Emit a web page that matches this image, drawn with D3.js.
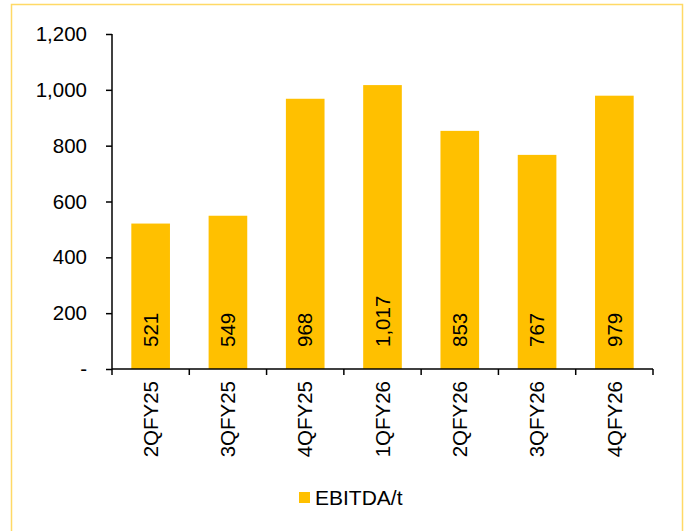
<!DOCTYPE html>
<html>
<head>
<script src="https://cdn.jsdelivr.net/npm/d3@7"></script>
<style>
  body { margin: 0; background: #fff; }
  text { font-family: "Liberation Sans", Arial, sans-serif; fill: #000; }
</style>
</head>
<body>
<svg width="694" height="531"></svg>
<script>
  // chart data
  var quarters = ["2QFY25", "3QFY25", "4QFY25", "1QFY26", "2QFY26", "3QFY26", "4QFY26"];
  var ebitda = [521, 549, 968, 1017, 853, 767, 979];
  var yTicks = [0, 200, 400, 600, 800, 1000, 1200];
  var seriesName = "EBITDA/t";

  var svg = d3.select("svg");
  var barColor = "#FFC000";
  var fontSize = "20.5px";

  // outer frame (no bottom edge visible in the original)
  svg.append("rect")
    .attr("x", 11.5).attr("y", 4.5)
    .attr("width", 671).attr("height", 540)
    .attr("fill", "none")
    .attr("stroke", "#FFD966")
    .attr("stroke-width", 1.5);

  var mLeft = 112, mRight = 653, mTop = 34, mBottom = 369;

  var x = d3.scaleBand().domain(quarters).range([mLeft, mRight]).paddingInner(0.5).paddingOuter(0.25);
  var y = d3.scaleLinear().domain([0, 1200]).range([mBottom, mTop]);
  var fmt = d3.format(",");

  // bars
  svg.append("g").selectAll("rect")
    .data(quarters)
    .enter().append("rect")
    .attr("x", function(d) { return x(d); })
    .attr("y", function(d, i) { return y(ebitda[i]); })
    .attr("width", x.bandwidth())
    .attr("height", function(d, i) { return mBottom - y(ebitda[i]); })
    .attr("fill", barColor);

  // value labels, rotated, starting near the base
  svg.append("g").selectAll("text")
    .data(quarters)
    .enter().append("text")
    .attr("transform", function(d) {
      return "translate(" + (x(d) + x.bandwidth() / 2) + "," + (mBottom - 22) + ") rotate(-90)";
    })
    .attr("dy", "0.35em")
    .style("font-size", fontSize)
    .text(function(d, i) { return fmt(ebitda[i]); });

  // y axis
  var yAxis = d3.axisLeft(y).tickValues(yTicks).tickSize(6).tickPadding(19)
    .tickFormat(function(d) { return d === 0 ? "-" : fmt(d); });
  var gy = svg.append("g").attr("transform", "translate(" + mLeft + ",0)").call(yAxis);
  gy.select(".domain").attr("stroke", "#000").attr("stroke-width", 1.5).attr("d", "M0," + mTop + "V" + mBottom);
  gy.selectAll(".tick line").attr("stroke", "#000").attr("stroke-width", 1.5);
  gy.selectAll(".tick text")
    .style("font-size", fontSize)
    .style("font-family", "Liberation Sans, Arial, sans-serif")
    .attr("fill", "#000");

  // x axis with ticks between categories
  var gx = svg.append("g");
  gx.append("line")
    .attr("x1", mLeft).attr("x2", mRight).attr("y1", mBottom).attr("y2", mBottom)
    .attr("stroke", "#000").attr("stroke-width", 1.5);
  var tickPos = d3.range(quarters.length + 1).map(function(i) {
    return mLeft + (mRight - mLeft) * i / quarters.length;
  });
  gx.selectAll("line.t")
    .data(tickPos)
    .enter().append("line")
    .attr("class", "t")
    .attr("x1", function(d) { return d; }).attr("x2", function(d) { return d; })
    .attr("y1", mBottom).attr("y2", mBottom + 6)
    .attr("stroke", "#000").attr("stroke-width", 1.5);

  gx.selectAll("text")
    .data(quarters)
    .enter().append("text")
    .attr("transform", function(d) {
      return "translate(" + (x(d) + x.bandwidth() / 2) + "," + (mBottom + 12) + ") rotate(-90)";
    })
    .attr("dy", "0.35em")
    .attr("text-anchor", "end")
    .style("font-size", fontSize)
    .text(function(d) { return d; });

  // legend
  var legend = svg.append("g");
  legend.append("rect")
    .attr("x", 299).attr("y", 492).attr("width", 11).attr("height", 11)
    .attr("fill", barColor);
  legend.append("text")
    .attr("x", 315).attr("y", 505)
    .style("font-size", "21px")
    .text(seriesName);
</script>
</body>
</html>
